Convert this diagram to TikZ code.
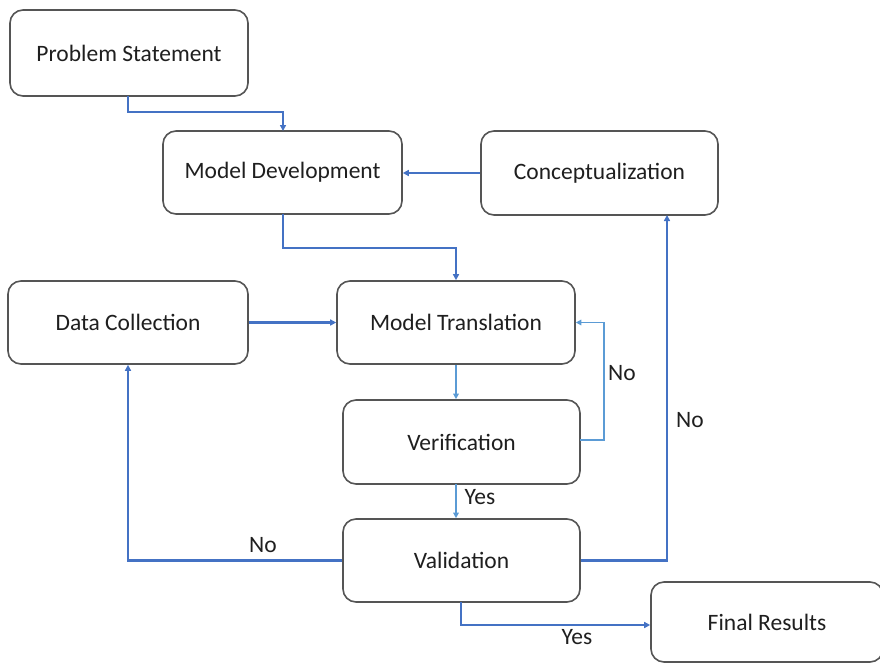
\documentclass[tikz,border=0pt]{standalone}
\usepackage{fontspec}
\setmainfont{Carlito}
\usetikzlibrary{arrows.meta}
\definecolor{boxline}{HTML}{555555}
\definecolor{arrowblue}{HTML}{4472C4}
\definecolor{lightblue}{HTML}{5B9BD5}
\begin{document}
\begin{tikzpicture}[x=1pt,y=-1pt,
  box/.style={draw=boxline,line width=1.6pt,rounded corners=13pt,fill=white,
    font=\fontsize{23.5}{28}\selectfont,text=black!88},
  conn/.style={draw=arrowblue,line width=2.2pt,-{Triangle[length=6pt,width=6pt]}},
  lconn/.style={draw=lightblue,line width=1.5pt,-{Triangle[length=5.5pt,width=5.5pt]}},
  lab/.style={font=\fontsize{23.5}{28}\selectfont,text=black!88}]
\useasboundingbox (0,0) rectangle (880,664);
\begin{scope}
\clip (0,0) rectangle (880,664);
\node[box,minimum width=238pt,minimum height=86pt] (ps) at (129,53) {Problem Statement};
\node[box,minimum width=239pt,minimum height=83pt] (md) at (282.5,172.5) {Model Development};
\node[box,minimum width=237pt,minimum height=84pt] (co) at (599.5,173) {Conceptualization};
\node[box,minimum width=240pt,minimum height=83pt] (dc) at (128,322.5) {Data Collection};
\node[box,minimum width=238pt,minimum height=83pt] (mt) at (456,322.5) {Model Translation};
\node[box,minimum width=237pt,minimum height=84pt] (ve) at (461.5,442) {Verification};
\node[box,minimum width=237pt,minimum height=83pt] (va) at (461.5,560.5) {Validation};
\node[box,minimum width=232pt,minimum height=80pt] (fr) at (767,622) {Final Results};
\end{scope}
\coordinate (psb) at (128,96);
\coordinate (mdt) at (283,131);
\draw[conn] (psb) -- (128,112) -| (mdt);
\draw[conn] (co.west) -- (co.west -| md.east);
\coordinate (mdb) at (283,214);
\draw[conn] (mdb) -- (283,248) -| (mt.north);
\draw[conn] (dc.east |- mt.west) -- (mt.west);
\draw[lconn] (mt.south) -- (mt.south |- ve.north);
\coordinate (vee) at (580,440);
\draw[lconn] (vee) -- (604,440) |- (mt.east);
\node[lab] (no1) at (622,373) {No};
\coordinate (veb) at (456,484);
\draw[lconn] (veb) -- (veb |- va.north);
\node[lab] (yes1) at (480,497) {Yes};
\draw[conn] (va.west) -| (dc.south);
\node[lab] (no2) at (263,545) {No};
\coordinate (cob) at (667,215);
\draw[conn] (va.east) -| (cob);
\node[lab] (no3) at (690,420) {No};
\coordinate (vab) at (461,602);
\draw[conn] (vab) -- (461,625) -- (fr.west |- 0,625);
\node[lab] (yes2) at (577,637) {Yes};
\end{tikzpicture}
\end{document}
